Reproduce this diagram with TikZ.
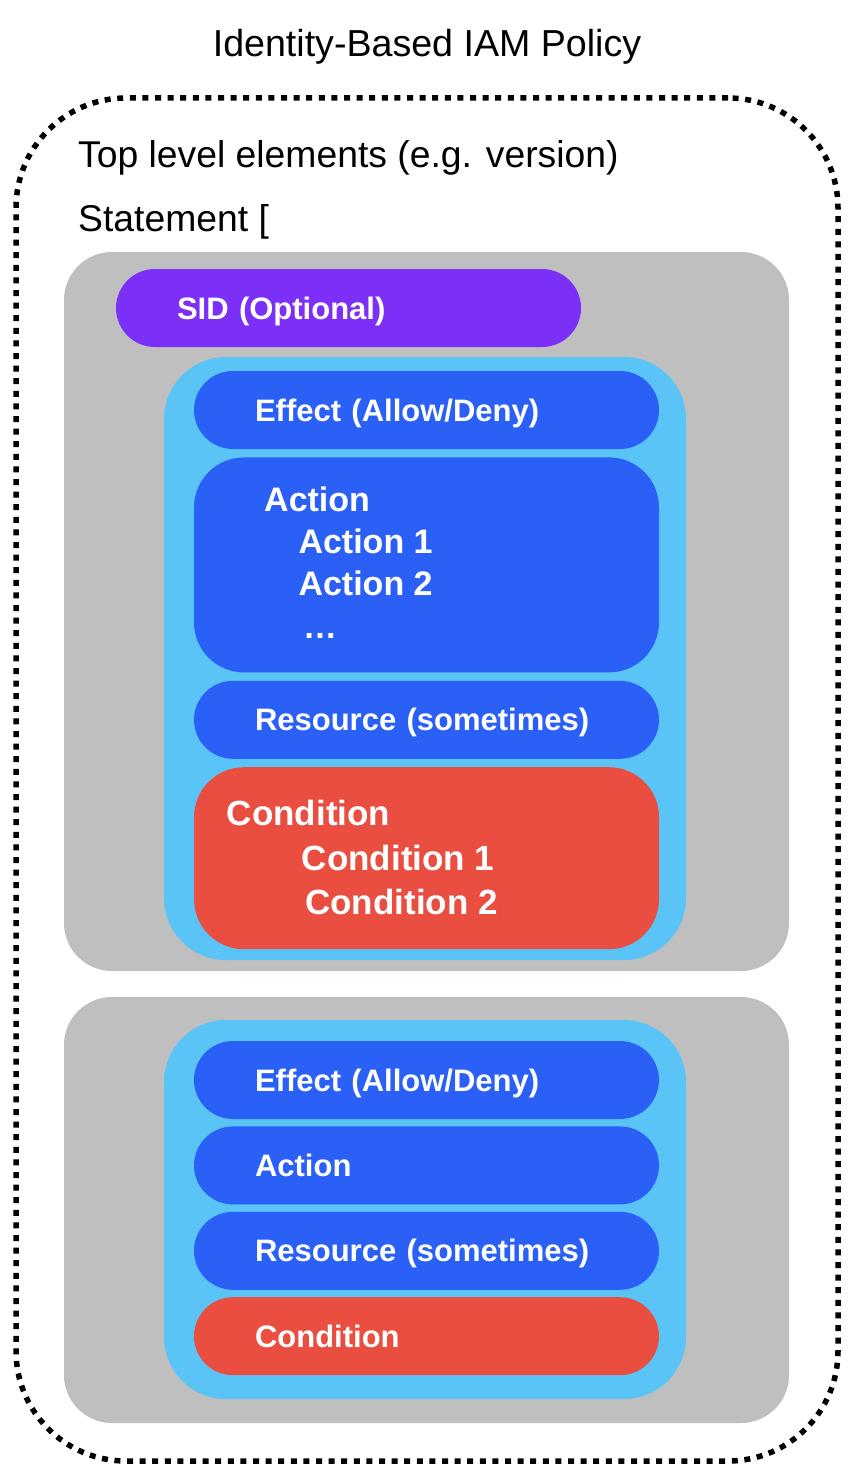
\documentclass[tikz,border=0pt]{standalone}
\usepackage{fontspec}
\setmainfont{Liberation Sans}
\usetikzlibrary{positioning}

\definecolor{stmtgray}{RGB}{191,191,191}
\definecolor{blockblue}{RGB}{91,196,247}
\definecolor{elemblue}{RGB}{43,96,246}
\definecolor{sidpurple}{RGB}{123,47,247}
\definecolor{condred}{RGB}{233,78,64}

\newcommand{\pxsize}[1]{\fontsize{#1}{#1}\selectfont}

\begin{document}
\begin{tikzpicture}[
  x=1pt, y=-1pt, inner sep=0pt, node distance=8pt,
  toptxt/.style={font=\pxsize{37.3}, anchor=base west},
  policy/.style={draw=black, line width=5.5pt, dash pattern=on 6pt off 6.6pt,
                 rounded corners=110pt, minimum width=822pt, minimum height=1363pt},
  stmt/.style={fill=stmtgray, rounded corners=48pt, minimum width=725pt},
  block/.style={fill=blockblue, rounded corners=62pt, minimum width=522pt},
  pill/.style={fill=elemblue, rounded corners=39pt, minimum height=78pt,
               text width=343pt, align=left, inner xsep=61pt, text=white,
               font=\pxsize{31}\bfseries, text height=22pt, text depth=0pt},
  bigbox/.style={fill=elemblue, rounded corners=50pt, minimum width=465pt},
  bigtxt/.style={text=white, font=\pxsize{34}\bfseries, anchor=base west}
]
\useasboundingbox (0,0) rectangle (852,1474);

% ---- title and policy frame
\node[font=\pxsize{37.6}, anchor=base] (title) at (427,56.7) {Identity-Based IAM Policy};
\node[policy] (pol) at (427,779.5) {};
\node[toptxt] (top) at (78,167.3) {Top level elements (e.g. version)};
\node[toptxt] (stm) at (78,231.7) {Statement [};

% ---- first statement
\node[stmt, minimum height=719pt] (st1) at (426.5,611.5) {};
\node[pill, fill=sidpurple] (sid) at (348.5,308) {SID (Optional)};
\node[block, minimum height=603pt] (bl1) at (425,658.5) {};
\node[pill] (eff1) at (426.5,410) {Effect (Allow/Deny)};
\node[bigbox, minimum height=215pt, below=of eff1] (actbox) {};
\node[pill, below=of actbox] (res1) {Resource (sometimes)};
\node[bigbox, fill=condred, minimum height=182pt, below=of res1] (cndbox) {};

\node[bigtxt] (act) at (264,511.7) {Action};
\node[bigtxt] (act1) at (298.3,553.3) {Action 1};
\node[bigtxt] (act2) at (298.3,595.7) {Action 2};
\node[bigtxt] (actdots) at (303,638) {\textellipsis};
\node[bigtxt, font=\pxsize{35}\bfseries] (cnd) at (226.7,825.7) {Condition};
\node[bigtxt, font=\pxsize{35}\bfseries] (cnd1) at (301.7,870.7) {Condition 1};
\node[bigtxt, font=\pxsize{35}\bfseries] (cnd2) at (305,914) {Condition 2};

% ---- second statement
\node[stmt, minimum height=426pt] (st2) at (426.5,1210) {};
\node[block, minimum height=379pt] (bl2) at (425,1209.5) {};
\node[pill] (eff2) at (426.5,1080) {Effect (Allow/Deny)};
\node[pill, below=7pt of eff2] (act9) {Action};
\node[pill, below=7pt of act9] (res2) {Resource (sometimes)};
\node[pill, fill=condred, below=7pt of res2] (cnd9) {Condition};
\end{tikzpicture}
\end{document}
